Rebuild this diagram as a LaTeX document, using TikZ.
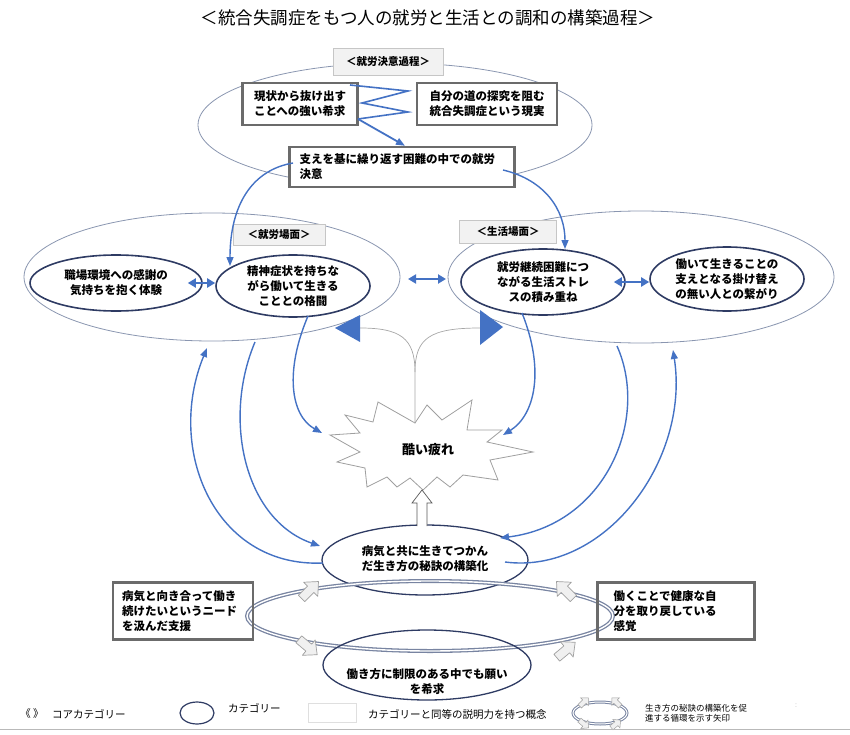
\documentclass[tikz,border=0pt]{standalone}
\usepackage{fontspec}
\setmainfont{Noto Sans CJK JP}
\usetikzlibrary{shapes.geometric,arrows.meta}
\definecolor{ablue}{HTML}{4472C4}
\definecolor{navy}{HTML}{2E3B63}
\definecolor{rim}{HTML}{8A96B0}
\definecolor{boxgray}{HTML}{6B6B6B}
\begin{document}
\begin{tikzpicture}[x=1pt,y=-1pt,
  txt/.style={font=\fontsize{11.5}{15}\selectfont\bfseries, align=center, inner sep=0pt},
  cat/.style={ellipse, draw=navy, line width=1.6pt, inner sep=0pt},
  scene/.style={ellipse, draw=rim, line width=0.8pt, inner sep=0pt},
  cbox/.style={draw=boxgray, line width=2.4pt, fill=white, inner ysep=0pt, font=\fontsize{11.5}{15}\selectfont\bfseries, align=left},
  lbl/.style={draw=gray!45, fill=gray!10, line width=0.6pt, font=\fontsize{10.5}{12}\selectfont\bfseries, inner sep=0pt},
  conn/.style={draw=ablue, line width=1.4pt, -{Triangle[length=9pt,width=7pt]}},
  dbl/.style={draw=ablue, line width=2.6pt, {Triangle[length=8pt,width=9pt]}-{Triangle[length=8pt,width=9pt]}},
  ringarr/.pic={\draw[gray!75, fill=gray!12, line width=0.7pt, line join=round] (-12,-4.5) -- (1,-4.5) -- (1,-10) -- (12,0) -- (1,10) -- (1,4.5) -- (-12,4.5) -- cycle;},
  smallarr/.pic={\draw[gray!75, fill=gray!12, line width=0.5pt] (-6,-2.5) -- (0.5,-2.5) -- (0.5,-5.5) -- (6,0) -- (0.5,5.5) -- (0.5,2.5) -- (-6,2.5) -- cycle;},
  legend/.style={font=\fontsize{10.5}{12}\selectfont, inner sep=0pt}
]
\useasboundingbox (0,0) rectangle (850,735);

% title
\node[font=\fontsize{17.5}{20}\selectfont, inner sep=0pt] (title) at (428,18) {＜統合失調症をもつ人の就労と生活との調和の構築過程＞};

% decision process
\node[scene, minimum width=394pt, minimum height=124pt] (top) at (395,125) {};
\node[lbl, minimum width=110pt, minimum height=27pt] (lbl1) at (388,62) {＜就労決意過程＞};
\node[cbox, minimum width=115pt, minimum height=42pt, inner xsep=4pt] (b1) at (300,104) {現状から抜け出す\\ことへの強い希求};
\node[cbox, minimum width=140pt, minimum height=42pt, inner xsep=4pt] (b2) at (487,104) {自分の道の探究を阻む\\統合失調症という現実};
\node[cbox, text width=205pt, minimum height=40pt, inner xsep=10pt] (b3) at (402,167) {支えを基に繰り返す困難の中での就労\\決意};

\coordinate (z0) at (350,85);
\coordinate (z1) at (408,91);
\coordinate (z2) at (362,103);
\coordinate (z3) at (408,112);
\coordinate (z4) at (358,119);
\draw[ablue, line width=1.6pt, line join=miter] (z0) -- (z1) -- (z2) -- (z3) -- (z4);
\draw[conn, line width=1.8pt] (z4) -- (b3.north -| 405,0);

% work scene
\node[scene, minimum width=376pt, minimum height=128pt] (W) at (212,277) {};
\node[lbl, minimum width=92pt, minimum height=21pt] (lbl2) at (279,235) {＜就労場面＞};
\node[cat, minimum width=172pt, minimum height=56pt] (e1) at (116,283) {};
\node[txt] at (e1) {職場環境への感謝の\\気持ちを抱く体験};
\node[cat, minimum width=154pt, minimum height=62pt] (e2) at (293,286) {};
\node[txt] at (e2) {精神症状を持ちな\\がら働いて生きる\\こととの格闘};

% life scene
\node[scene, minimum width=386pt, minimum height=132pt] (L) at (641,277) {};
\node[lbl, minimum width=97pt, minimum height=23pt] (lbl3) at (508,232) {＜生活場面＞};
\node[cat, minimum width=164pt, minimum height=66pt] (e3) at (543,282) {};
\node[txt] at (e3) {就労継続困難につ\\ながる生活ストレ\\スの積み重ね};
\node[cat, minimum width=154pt, minimum height=64pt] (e4) at (727,279) {};
\node[txt] at (e4) {働いて生きることの\\支えとなる掛け替え\\の無い人との繋がり};

% curves from b3
\coordinate (b3l) at (293,163);
\coordinate (b3r) at (503,170);
\coordinate (e2t) at (230,266);
\coordinate (e3t) at (565,249);
\draw[conn] (b3l) .. controls (252,170) and (230,205) .. (e2t);
\draw[conn] (b3r) .. controls (545,180) and (565,210) .. (e3t);

% double arrows
\draw[dbl] ([xshift=-15pt]e1.east) -- (e1.east -| e2.west);
\draw[dbl] ([xshift=-12pt]e3.east) -- (e3.east -| e4.west);
\coordinate (wl1) at (408,279);
\coordinate (wl2) at (446,279);
\draw[dbl] (wl1) -- (wl2);

% burst
\draw[gray!75, line width=0.8pt, fill=white] (378,402) -- (415,423) -- (427,405) -- (442,420) -- (472,400) -- (467,430) -- (502,430) -- (487,442) -- (533,452) -- (490,460) -- (498,480) -- (463,475) -- (450,487) -- (437,477) -- (423,490) -- (410,478) -- (397,487) -- (387,477) -- (367,487) -- (365,468) -- (337,462) -- (360,452) -- (330,435) -- (360,433) -- (345,415) -- (373,422) -- cycle;
\node[font=\fontsize{13}{15}\selectfont\bfseries, inner sep=0pt] (burst) at (428,450) {酷い疲れ};
\coordinate (bt) at (415,423);
\coordinate (bl) at (322,433);
\coordinate (br) at (503,435);
\coordinate (bb) at (422,490);

% gray Y lines with triangles
\coordinate (tl) at (360,328);
\coordinate (tr) at (480,328);
\draw[gray!70, line width=0.7pt] (bt) -- (415,372) .. controls (415,338) and (400,328) .. (tl);
\draw[gray!70, line width=0.7pt] (415,372) .. controls (415,338) and (430,328) .. (tr);
\fill[ablue] (335,328) -- (360,315) -- (360,342) -- cycle;
\fill[ablue] (480,310) -- (480,345) -- (503,327) -- cycle;

% blue arrows into burst
\coordinate (e2b) at (308,316);
\coordinate (e3b) at (522,313);
\draw[conn] (e2b) .. controls (285,370) and (290,415) .. (bl);
\draw[conn] (e3b) .. controls (545,370) and (535,415) .. (br);

% bottom category (core)
\node[ellipse, draw=navy, line width=1.3pt, minimum width=206pt, minimum height=70pt, inner sep=0pt] (B1) at (425,560) {};
\node[txt] at (425,559) {病気と共に生きてつかん\\だ生き方の秘訣の構築化};

% hollow arrow
\draw[black!65, line width=0.7pt, fill=white] (417,526) -- (417,503) -- (412,503) -- (bb) -- (432,503) -- (427,503) -- (427,526);

% arcs
\coordinate (aA0) at (323,563);
\coordinate (aA1) at (207,348);
\coordinate (aB0) at (255,342);
\coordinate (aB1) at (320,546);
\coordinate (aC0) at (617,346);
\coordinate (aC1) at (500,538);
\coordinate (aD0) at (505,562);
\coordinate (aD1) at (673,350);
\draw[conn] (aA0) .. controls (215,568) and (165,450) .. (aA1);
\draw[conn] (aB0) .. controls (222,420) and (245,520) .. (aB1);
\draw[conn] (aC0) .. controls (650,420) and (605,525) .. (aC1);
\draw[conn] (aD0) .. controls (605,575) and (690,460) .. (aD1);

% ring
\draw[draw=rim!80!navy, line width=4pt] (430,616) ellipse (183 and 35);
\draw[draw=white, line width=1.4pt] (430,616) ellipse (183 and 35);

% side boxes
\node[cbox, text width=122pt, minimum height=57pt, inner xsep=9pt, fill=none] (LB) at (183,611) {病気と向き合って働き\\続けたいというニード\\を汲んだ支援};
\node[cbox, text width=125pt, minimum height=57pt, inner xsep=16pt, fill=none] (RB) at (676,611) {働くことで健康な自\\分を取り戻している\\感覚};

% bottom category
\node[ellipse, draw=navy, line width=1.3pt, minimum width=208pt, minimum height=70pt, inner sep=0pt] (B2) at (427,665) {};
\node[txt] at (427,682) {働き方に制限のある中でも願い\\を希求};

% ring arrows
\pic[rotate=45] at (310,590) {ringarr};
\pic[rotate=135] at (565,590) {ringarr};
\pic[rotate=-40] at (308,647) {ringarr};
\pic[rotate=40] at (566,650) {ringarr};

% legend
\node[legend] (lg1) at (32,714) {《 》};
\node[legend, anchor=west] (lg2) at (52,714) {コアカテゴリー};
\node[ellipse, draw=navy, line width=1.2pt, minimum width=34pt, minimum height=22pt, inner sep=0pt] (lg3) at (197,713) {};
\node[legend, anchor=west] (lg4) at (228,708) {カテゴリー};
\node[draw=gray!25, minimum width=48pt, minimum height=19pt, inner sep=0pt] (lg5) at (332,713) {};
\node[legend, anchor=west] (lg6) at (368,714) {カテゴリーと同等の説明力を持つ概念};
\draw[draw=rim!80!navy, line width=3pt] (600,713) ellipse (27 and 11);
\draw[draw=white, line width=1pt] (600,713) ellipse (27 and 11);
\pic[rotate=45] at (584,702) {smallarr};
\pic[rotate=135] at (616,702) {smallarr};
\pic[rotate=-40] at (584,724) {smallarr};
\pic[rotate=40] at (616,724) {smallarr};
\node[legend, anchor=west, align=left, font=\fontsize{8.5}{10.5}\selectfont] (lg7) at (645,713) {生き方の秘訣の構築化を促\\進する循環を示す矢印};
\node[legend, text=gray!60, font=\fontsize{7}{8}\selectfont] (lg8) at (796,706) {:};
\draw[gray!55, line width=1pt] (0,729) -- (850,729);
\end{tikzpicture}
\end{document}
